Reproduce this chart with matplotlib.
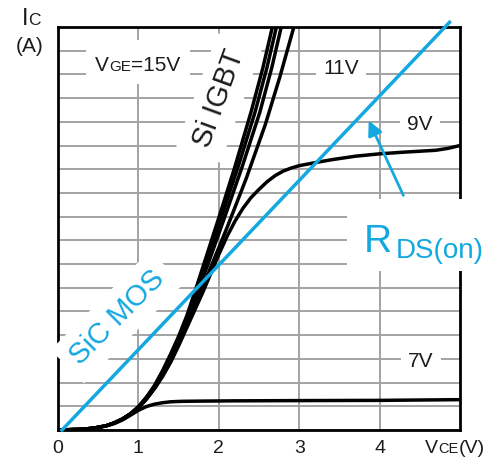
import numpy as np
import matplotlib.pyplot as plt
from matplotlib.patches import Rectangle

plt.rcParams['font.family'] = ['Liberation Sans', 'DejaVu Sans']

W, H = 486, 457
BLUE = '#14a8e0'
INK = '#1c1c1c'

# Vce (V) against Ic (one grid step per unit)
vce_7v = [0, 0.3, 0.45, 0.6, 0.7, 0.8, 0.9, 1.0, 1.1, 1.2, 1.3, 1.4, 1.55, 1.8, 2.2, 3.0, 4.0, 5.0]
ic_7v = [0, 0.03, 0.08, 0.17, 0.27, 0.42, 0.62, 0.83, 0.99, 1.09, 1.15, 1.19, 1.21, 1.22, 1.23, 1.24, 1.25, 1.28]

vce_9v = [0, 0.3, 0.45, 0.6, 0.7, 0.8, 0.9, 1.0, 1.1, 1.2, 1.3, 1.4, 1.5, 1.6, 1.7, 1.8, 1.9,
          2.0, 2.1, 2.2, 2.3, 2.4, 2.5, 2.6, 2.7, 2.8, 2.9, 3.0, 3.2, 3.4, 3.7, 4.0, 4.3, 4.7, 4.85, 5.0]
ic_9v = [0, 0.03, 0.08, 0.18, 0.3, 0.46, 0.67, 0.94, 1.3, 1.75, 2.25, 2.85, 3.55, 4.3, 5.05, 5.8, 6.6,
         7.4, 8.15, 8.8, 9.35, 9.8, 10.15, 10.47, 10.73, 10.92, 11.05, 11.15, 11.28, 11.4, 11.55, 11.65, 11.72, 11.8, 11.88, 12.0]

# Si IGBT bundle (11V .. 15V)
vce_a = [0, 0.3, 0.45, 0.6, 0.7, 0.8, 0.9, 1.0, 1.1, 1.2, 1.3, 1.4, 1.5, 1.6, 1.7, 1.8, 2.0, 2.2, 2.4, 2.55, 2.68]
ic_a = [0, 0.03, 0.08, 0.18, 0.3, 0.46, 0.68, 0.98, 1.38, 1.88, 2.5, 3.2, 3.95, 4.8, 5.8, 6.85, 8.95, 11.1, 13.4, 15.3, 17.2]
vce_b = [0, 0.3, 0.45, 0.6, 0.7, 0.8, 0.9, 1.0, 1.1, 1.21, 1.31, 1.41, 1.51, 1.61, 1.71, 1.82, 2.03, 2.24, 2.45, 2.6, 2.73]
ic_b = [0, 0.03, 0.08, 0.18, 0.3, 0.46, 0.68, 0.98, 1.38, 1.88, 2.5, 3.2, 3.95, 4.8, 5.8, 6.85, 8.95, 11.1, 13.4, 15.3, 17.2]
vce_c = [0, 0.3, 0.45, 0.6, 0.7, 0.8, 0.9, 1.01, 1.11, 1.22, 1.32, 1.42, 1.52, 1.62, 1.73, 1.85, 2.07, 2.29, 2.51, 2.66, 2.79]
ic_c = [0, 0.03, 0.08, 0.18, 0.3, 0.46, 0.68, 0.98, 1.38, 1.88, 2.5, 3.2, 3.95, 4.8, 5.8, 6.85, 8.95, 11.1, 13.4, 15.3, 17.2]
vce_d = [0, 0.3, 0.45, 0.6, 0.7, 0.8, 0.9, 1.01, 1.11, 1.22, 1.32, 1.42, 1.52, 1.63, 1.75, 1.88, 2.11, 2.34, 2.58, 2.76, 2.95]
ic_d = [0, 0.03, 0.08, 0.18, 0.3, 0.46, 0.67, 0.96, 1.35, 1.84, 2.45, 3.12, 3.85, 4.7, 5.7, 6.7, 8.6, 10.6, 12.9, 14.9, 17.2]

# SiC MOSFET on-resistance line
vce_sic = [0.05, 4.87]
ic_sic = [0, 17.2]

x_ticks = [0, 1, 2, 3, 4]
x_labels = ['0', '1', '2', '3', '4']

fig = plt.figure(figsize=(W / 100, H / 100), dpi=100)
ax = fig.add_axes([58 / W, 1 - 430 / H, (460 - 58) / W, (430 - 27) / H])
ax.set_xlim(0, 5)
ax.set_ylim(0, 17)
ax.set_xticks(x_ticks)
ax.set_xticklabels(x_labels, fontsize=14, color=INK)
ax.set_yticks(range(0, 18))
ax.set_yticklabels([])
ax.tick_params(length=0, pad=7)
ax.grid(True, color='#a3a3a3', lw=1.4)
ax.set_axisbelow(True)
for sp in ax.spines.values():
    sp.set_linewidth(2.0)
    sp.set_color('black')

for xs, ys in [(vce_7v, ic_7v), (vce_9v, ic_9v), (vce_a, ic_a), (vce_b, ic_b),
               (vce_c, ic_c), (vce_d, ic_d)]:
    ax.plot(xs, ys, color='black', lw=2.5, zorder=4, solid_capstyle='round',
            solid_joinstyle='round')
ax.plot(vce_sic, ic_sic, color=BLUE, lw=2.5, zorder=4, clip_on=False)

ax.annotate('', xy=(3.85, 13.16), xytext=(4.31, 9.79),
            arrowprops=dict(arrowstyle='-|>', color=BLUE, lw=2.0, mutation_scale=22),
            zorder=5)

tf = fig.transFigure
r = fig.canvas.get_renderer()


def fxy(px, py):
    return px / W, 1 - py / H


def white_box(x0, y0, x1, y1):
    ax.add_patch(Rectangle(fxy(x0, y1), (x1 - x0) / W, (y1 - y0) / H, transform=tf,
                           fc='white', ec='none', zorder=3, clip_on=False))


def run_text(x, y, parts, color=INK):
    # pieces of text on one baseline, for the small-caps subscripts
    for s, size in parts:
        t = ax.text(*fxy(x, y), s, transform=tf, fontsize=size, color=color,
                    ha='left', va='baseline', zorder=6, clip_on=False)
        x += t.get_window_extent(r).width


white_box(86, 40, 190, 84)
white_box(347, 199, 490, 271)

run_text(22, 25, [('I', 17), ('C', 12.5)])
run_text(16, 52, [('(A)', 15)])
run_text(95, 71, [('V', 15), ('GE', 11), ('=15V', 15)])
run_text(425, 453, [('V', 14), ('CE', 10.5), ('(V)', 14)])

wb = dict(fc='white', ec='none', pad=5)
for s, px, py in [('11V', 341, 74), ('9V', 420, 130), ('7V', 421, 367)]:
    ax.text(*fxy(px, py), s, transform=tf, fontsize=15, color=INK, ha='center',
            va='baseline', bbox=wb, zorder=3)

ax.text(*fxy(219, 98), 'Si IGBT', transform=tf, fontsize=21, color=INK, rotation=70,
        rotation_mode='anchor', ha='center', va='center', zorder=3,
        bbox=dict(fc='white', ec='none', pad=7), clip_on=False)
ax.text(*fxy(117, 317), 'SiC MOS', transform=tf, fontsize=21, color=BLUE, rotation=45,
        rotation_mode='anchor', ha='center', va='center', zorder=3,
        bbox=dict(fc='white', ec='none', pad=7), clip_on=False)

ax.text(*fxy(364, 252), 'R', transform=tf, fontsize=28, color=BLUE, ha='left',
        va='baseline', zorder=6)
ax.text(*fxy(396, 258), 'DS(on)', transform=tf, fontsize=20, color=BLUE, ha='left',
        va='baseline', zorder=6)

fig.savefig('out.png', dpi=100)
